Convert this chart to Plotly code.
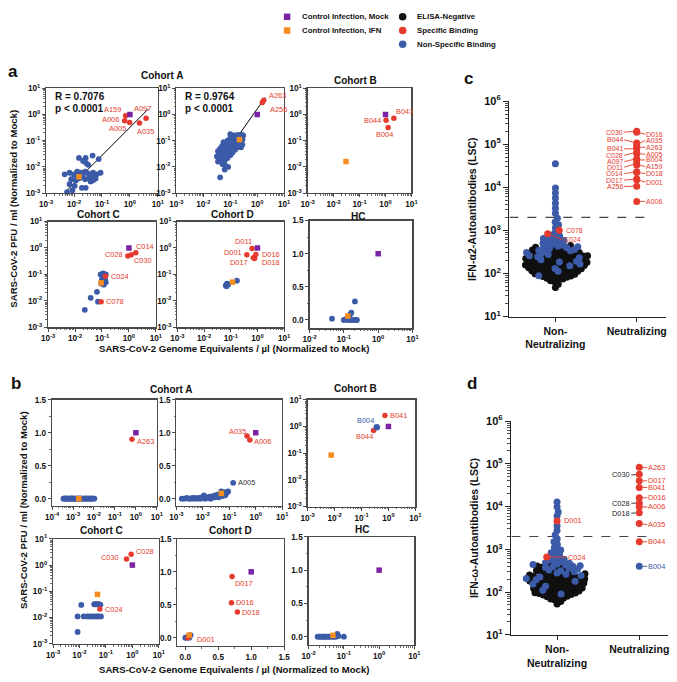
import math
import plotly.graph_objects as go

W, H = 677, 682
FONT = "Liberation Sans, Arial, Helvetica, sans-serif"
RED = "#e53a2d"
BLUE = "#3b5ba8"
PURPLE = "#7b22a5"
ORANGE = "#f68c1e"
BLACK = "#101010"
AXC = "#4a4a4a"
TXT = "#111111"

# ============================ DATA ============================
MOCK_X = [1.0]
MOCK_Y = [1.0]

# ---------- panel a : Cohort A (left) ----------
aA1_nsb_x = [0.015, 0.046, 0.026, 0.076, 0.032, 0.021, 0.089, 0.0046, 0.0069, 0.0098, 0.0129, 0.018, 0.025,
             0.035, 0.048, 0.065, 0.0079, 0.0115, 0.017, 0.025, 0.035, 0.048, 0.0069, 0.0105, 0.019, 0.026,
             0.0087, 0.0056, 0.039, 0.012, 0.020, 0.030, 0.040, 0.014, 0.056, 0.027, 0.059]
aA1_nsb_y = [0.022, 0.027, 0.022, 0.020, 0.012, 0.017, 0.0060, 0.0052, 0.0060, 0.0052, 0.0066, 0.0060, 0.0066,
             0.0052, 0.0060, 0.0052, 0.0034, 0.0030, 0.0039, 0.0034, 0.0039, 0.0031, 0.0022, 0.0019, 0.0016, 0.0016,
             0.0013, 0.0011, 0.0028, 0.0045, 0.0048, 0.0058, 0.0045, 0.0036, 0.0040, 0.014, 0.0036]
aA1_spec_id = ["A159", "A006", "A005", "A035", "A097"]
aA1_spec_x = [0.70, 0.65, 0.98, 2.2, 3.8]
aA1_spec_y = [0.90, 0.58, 0.50, 0.47, 0.72]
aA1_ifn_x = [0.015]
aA1_ifn_y = [0.0042]
aA1_fit_x = [0.0053, 4.5]
aA1_fit_y = [0.0012, 1.6]
aA1_stats = ["R = 0.7076", "p < 0.0001"]

# ---------- panel a : Cohort A (right) ----------
aA2_nsb_x = [0.032, 0.035, 0.035, 0.040, 0.042, 0.045, 0.050, 0.050, 0.052, 0.056, 0.060, 0.063, 0.063, 0.071,
             0.076, 0.079, 0.079, 0.083, 0.089, 0.095, 0.10, 0.10, 0.105, 0.112, 0.12, 0.126, 0.126, 0.141, 0.151,
             0.158, 0.158, 0.178, 0.19, 0.20, 0.20, 0.224, 0.24, 0.25, 0.263, 0.282, 0.30, 0.282, 0.062, 0.062,
             0.042, 0.10, 0.056, 0.13, 0.17, 0.21]
aA2_nsb_y = [0.025, 0.040, 0.016, 0.028, 0.050, 0.020, 0.035, 0.063, 0.0126, 0.025, 0.045, 0.079, 0.018, 0.032,
             0.056, 0.10, 0.022, 0.010, 0.040, 0.071, 0.126, 0.028, 0.050, 0.089, 0.035, 0.141, 0.063, 0.10, 0.045,
             0.158, 0.071, 0.112, 0.056, 0.166, 0.079, 0.141, 0.089, 0.056, 0.166, 0.112, 0.158, 0.071, 0.0123,
             0.0079, 0.0040, 0.178, 0.089, 0.16, 0.13, 0.11]
aA2_spec_id = ["A263", "A256"]
aA2_spec_x = [1.74, 1.55]
aA2_spec_y = [3.5, 2.9]
aA2_ifn_x = [0.22]
aA2_ifn_y = [0.11]
aA2_fit_x = [0.038, 2.0]
aA2_fit_y = [0.014, 4.5]
aA2_stats = ["R = 0.9764", "p < 0.0001"]

# ---------- panel a : Cohort B ----------
aB_spec_id = ["B044", "B041", "B004"]
aB_spec_x = [1.05, 2.1, 1.26]
aB_spec_y = [0.60, 0.72, 0.32]
aB_ifn_x = [0.03]
aB_ifn_y = [0.016]

# ---------- panel a : Cohort C ----------
aC_nsb_x = [0.089, 0.11, 0.138, 0.123, 0.10, 0.093, 0.117, 0.138, 0.13, 0.065, 0.038, 0.071, 0.023]
aC_nsb_y = [0.10, 0.11, 0.10, 0.072, 0.065, 0.045, 0.041, 0.051, 0.065, 0.022, 0.013, 0.0093, 0.0046]
aC_spec_id = ["C028", "C030", "C014", "C024", "C078"]
aC_spec_x = [0.91, 1.23, 1.8, 0.135, 0.093]
aC_spec_y = [0.50, 0.55, 0.66, 0.085, 0.0093]
aC_ifn_x = [0.093]
aC_ifn_y = [0.048]

# ---------- panel a : Cohort D ----------
aD_nsb_x = [0.065, 0.072, 0.081, 0.070, 0.17]
aD_nsb_y = [0.038, 0.045, 0.042, 0.036, 0.058]
aD_spec_id = ["D011", "D001", "D017", "D016", "D018"]
aD_spec_x = [0.63, 0.40, 0.70, 0.87, 0.78]
aD_spec_y = [0.95, 0.55, 0.43, 0.57, 0.40]
aD_ifn_x = [0.117]
aD_ifn_y = [0.051]

# ---------- panel a : HC ----------
aHC_nsb_x = [0.045, 0.10, 0.13, 0.16, 0.19, 0.22, 0.24, 0.15, 0.165, 0.21, 0.12]
aHC_nsb_y = [0.02, 0.0, 0.0, 0.0, 0.0, 0.0, 0.0, 0.08, 0.11, 0.28, 0.02]
aHC_ifn_x = [0.13]
aHC_ifn_y = [0.06]

# ---------- panel b : Cohort A (left) ----------
bA1_nsb_x = [0.00035, 0.0004, 0.00045, 0.0005, 0.00056, 0.00063, 0.0007, 0.0008, 0.0009, 0.001, 0.0011, 0.0012,
             0.0014, 0.0016, 0.0018, 0.002, 0.0023, 0.0026, 0.003, 0.0034, 0.0038, 0.0043, 0.005, 0.0056, 0.0063,
             0.007, 0.008, 0.009, 0.0105]
bA1_nsb_y = [0.0, 0.002, 0.0, 0.003, 0.0, 0.001, 0.0, 0.002, 0.0, 0.003, 0.0, 0.001, 0.0, 0.002, 0.0, 0.0, 0.003,
             0.0, 0.001, 0.0, 0.002, 0.0, 0.003, 0.0, 0.001, 0.0, 0.002, 0.0, 0.001]
bA1_spec_id = ["A263"]
bA1_spec_x = [0.65]
bA1_spec_y = [0.90]
bA1_ifn_x = [0.0019]
bA1_ifn_y = [0.0]

# ---------- panel b : Cohort A (right) ----------
bA2_nsb_x = [0.0016, 0.002, 0.0025, 0.003, 0.0035, 0.004, 0.0045, 0.005, 0.006, 0.007, 0.008, 0.009, 0.01, 0.011,
             0.012, 0.014, 0.016, 0.018, 0.02, 0.022, 0.025, 0.028, 0.03, 0.033, 0.036, 0.04, 0.045, 0.05, 0.055,
             0.06, 0.065, 0.07, 0.08, 0.09]
bA2_nsb_y = [0.0, 0.0, 0.01, 0.0, 0.0, 0.01, 0.0, 0.01, 0.0, 0.01, 0.0, 0.02, 0.01, 0.05, 0.0, 0.02, 0.01, 0.03,
             0.0, 0.02, 0.04, 0.02, 0.05, 0.03, 0.06, 0.02, 0.06, 0.11, 0.04, 0.07, 0.10, 0.05, 0.09, 0.11]
bA2_nsb_lbl_id = ["A005"]
bA2_nsb_lbl_x = [0.14]
bA2_nsb_lbl_y = [0.24]
bA2_spec_id = ["A035", "A006"]
bA2_spec_x = [0.47, 0.60]
bA2_spec_y = [0.95, 0.89]
bA2_ifn_x = [0.05]
bA2_ifn_y = [0.08]

# ---------- panel b : Cohort B ----------
bB_nsb_lbl_id = ["B004"]
bB_nsb_lbl_x = [0.37]
bB_nsb_lbl_y = [0.93]
bB_spec_id = ["B041", "B044"]
bB_spec_x = [0.74, 0.28]
bB_spec_y = [2.6, 0.70]
bB_ifn_x = [0.0075]
bB_ifn_y = [0.085]

# ---------- panel b : Cohort C ----------
bC_nsb_x = [0.0085, 0.0145, 0.02, 0.025, 0.031, 0.038, 0.045, 0.052, 0.065, 0.0117, 0.0085, 0.036, 0.041, 0.047,
            0.054, 0.062]
bC_nsb_y = [0.011, 0.011, 0.011, 0.011, 0.011, 0.011, 0.011, 0.011, 0.011, 0.030, 0.0028, 0.032, 0.032, 0.032,
            0.032, 0.031]
bC_spec_id = ["C030", "C028", "C024"]
bC_spec_x = [0.60, 0.90, 0.059]
bC_spec_y = [1.7, 2.6, 0.021]
bC_ifn_x = [0.048]
bC_ifn_y = [0.076]

# ---------- panel b : Cohort D ----------
bD_nsb_x = [0.0, 0.02, 0.03, 0.05, 0.07, 0.08, 0.06]
bD_nsb_y = [0.0, 0.0, 0.01, 0.02, 0.03, 0.04, 0.0]
bD_spec_id = ["D017", "D016", "D018", "D001"]
bD_spec_x = [0.71, 0.70, 0.79, 0.04]
bD_spec_y = [0.93, 0.53, 0.39, 0.0]
bD_ifn_x = [0.06]
bD_ifn_y = [0.04]

# ---------- panel b : HC ----------
bHC_nsb_x = [0.018, 0.02, 0.022, 0.024, 0.026, 0.028, 0.03, 0.033, 0.036, 0.04, 0.045, 0.05, 0.055, 0.06, 0.062,
             0.065, 0.07, 0.10]
bHC_nsb_y = [0.0, 0.0, 0.0, 0.0, 0.0, 0.0, 0.0, 0.0, 0.0, 0.0, 0.0, 0.0, 0.0, 0.0, 0.02, 0.04, 0.01, 0.0]
bHC_ifn_x = [0.049]
bHC_ifn_y = [0.02]

# ---------- panels c / d ----------
CATEGORIES = ["Non-Neutralizing", "Neutralizing"]
THRESHOLD = 2000

c_neg = [47, 56,
         64, 68, 71, 74, 77,
         80, 82, 85, 87, 89, 92, 94, 96, 98,
         101, 103, 105, 108, 110, 113, 115, 118, 120, 123, 125,
         127, 129, 132, 135, 138, 141, 143, 146, 149, 152, 155, 157,
         160, 162, 166, 169, 172, 176, 179, 182, 186, 189, 193, 197,
         201, 205, 210, 214, 219, 223, 228, 233, 238, 243, 248,
         253, 259, 266, 272, 280, 287, 296, 305, 313,
         320, 333, 348, 366, 385,
         405, 445]
c_nsb = [88, 112, 131, 150, 166, 185, 193, 209, 231, 244, 258, 274, 290, 308,
         325, 334, 347, 361, 378, 395,
         402, 418, 430, 452, 468, 489,
         505, 530, 556, 580, 605, 625,
         650, 690, 735, 780,
         900, 1150, 1350, 1560,
         1900, 2490, 3260, 4270, 5600, 7330, 9600, 35000]
c_nn_spec_id = ["C078", "C024"]
c_nn_spec = [1000, 830]
c_neut_id = ["C030", "D016", "B044", "A035", "A263", "B041", "C028", "A005", "A097", "B004", "D011", "A159",
             "C014", "D018", "D017", "D001", "A256", "A006"]
c_neut = [200000, 190000, 107000, 98000, 85000, 78000, 65000, 60000, 46000, 43000, 36000, 33000,
          23000, 22000, 15500, 15000, 10500, 4700]

d_neg = [53, 60,
         65, 69, 72, 75, 78,
         80, 83, 86, 88, 91, 93, 95, 97, 99,
         101, 103, 106, 108, 111, 114, 116, 119, 121, 124,
         127, 130, 133, 136, 139, 142, 145, 148, 151, 154, 157,
         160, 164, 167, 171, 175, 178, 182, 186, 190, 194, 198,
         202, 206, 211, 216, 221, 226, 231, 236, 241, 246,
         252, 260, 268, 277, 286, 296, 308,
         322, 340, 360, 380, 395,
         410, 430]
d_nsb = [90, 110, 137, 155, 180, 195, 209, 226, 243, 262, 280, 298, 314,
         328, 345, 362, 376, 390,
         402, 415, 428, 441, 455, 470, 488,
         510, 540, 565, 590, 615,
         700, 760,
         830, 900, 960,
         1100, 1300, 1500, 1750,
         2150, 2750, 3550, 6000, 7500, 9800, 12800]
d_nn_spec_id = ["D001", "C024"]
d_nn_spec = [4600, 660]
d_neut_id = ["A263", "C030", "D017", "B041", "D016", "C028", "A006", "D018", "A035", "B044"]
d_neut = [83000, 57000, 40000, 28000, 16000, 12000, 9800, 7200, 4000, 1500]
d_neut_nsb_id = ["B004"]
d_neut_nsb = [400]

# ============================ STYLE / LAYOUT ============================
fig = go.Figure()
layout_axes = {}
annotations = []
panels = {}
TICKF = 8.2
LBLF = 7.4
SWARM_D = 4.4


def log_ticks(lo, hi):
    vals = [10.0 ** k for k in range(lo, hi + 1)]
    text = ["10<sup>%d</sup>" % k for k in range(lo, hi + 1)]
    minor = [m * 10.0 ** k for k in range(lo, hi) for m in range(2, 10)]
    return vals, text, minor


def base_axis(kind, lim, fsize=TICKF, box=True, lw=1.3, col=AXC, tlen=3, mlen=1.6):
    d = dict(showline=True, linecolor=col, linewidth=lw, mirror=box, ticks="outside", ticklen=tlen,
             tickwidth=1, tickcolor=col, showgrid=False, zeroline=False, fixedrange=True,
             tickfont=dict(family=FONT, size=fsize, color=TXT, weight="bold"))
    if kind == "log":
        lo, hi = lim
        vals, text, minor = log_ticks(lo, hi)
        d.update(type="log", range=[lo, hi], tickmode="array", tickvals=vals, ticktext=text,
                 minor=dict(tickmode="array", tickvals=minor, ticks="outside", ticklen=mlen, tickwidth=0.8,
                            tickcolor=col, showgrid=False))
    else:
        d.update(type="linear", range=list(lim), tickmode="array", tickvals=[0, 0.5, 1.0, 1.5],
                 ticktext=["0.0", "0.5", "1.0", "1.5"],
                 minor=dict(tickmode="array", tickvals=[0.25, 0.75, 1.25], ticks="outside", ticklen=mlen,
                            tickwidth=0.8, tickcolor=col, showgrid=False))
    return d


def add_panel(n, xdom, ydom, xkind, xlim, ykind, ylim, **kw):
    xname = "xaxis" if n == 1 else "xaxis%d" % n
    yname = "yaxis" if n == 1 else "yaxis%d" % n
    xr = "x" if n == 1 else "x%d" % n
    yr = "y" if n == 1 else "y%d" % n
    xa = base_axis(xkind, xlim, **kw)
    xa.update(domain=[xdom[0] / W, xdom[1] / W], anchor=yr)
    ya = base_axis(ykind, ylim, **kw)
    ya.update(domain=[1 - ydom[1] / H, 1 - ydom[0] / H], anchor=xr)
    layout_axes[xname] = xa
    layout_axes[yname] = ya
    panels[n] = (xr, yr, xkind, ykind)


def cv(v, kind):
    return math.log10(v) if kind == "log" else v


def pts(n, x, y, color, symbol="circle", size=5.5):
    xr, yr, _, _ = panels[n]
    fig.add_trace(go.Scatter(x=x, y=y, xaxis=xr, yaxis=yr, mode="markers",
                             marker=dict(color=color, symbol=symbol, size=size, line=dict(width=0)),
                             showlegend=False, hoverinfo="skip", cliponaxis=False))


def fitline(n, x, y, color="black", width=1.0, dash=None):
    xr, yr, _, _ = panels[n]
    fig.add_trace(go.Scatter(x=x, y=y, xaxis=xr, yaxis=yr, mode="lines",
                             line=dict(color=color, width=width, dash=dash),
                             showlegend=False, hoverinfo="skip"))


def lbl(n, text, x, y, xanchor, xshift, yshift, color=RED, size=LBLF):
    xr, yr, xk, yk = panels[n]
    annotations.append(dict(text=text, x=cv(x, xk), y=cv(y, yk), xref=xr, yref=yr, showarrow=False,
                            xanchor=xanchor, yanchor="middle", xshift=xshift, yshift=yshift,
                            font=dict(family=FONT, size=size, color=color)))


def ptext(text, xpx, ypx, size, bold=True, xanchor="center", yanchor="middle", angle=0, color=TXT):
    annotations.append(dict(text=text, x=xpx / W, y=1 - ypx / H, xref="paper", yref="paper", showarrow=False,
                            xanchor=xanchor, yanchor=yanchor, textangle=angle,
                            font=dict(family=FONT, size=size, color=color,
                                      weight="bold" if bold else "normal")))


def group(n, nsb=None, spec=None, ifn=None):
    if nsb is not None:
        pts(n, nsb[0], nsb[1], BLUE, size=5.8)
    if spec is not None:
        pts(n, spec[0], spec[1], RED, size=5.5)
    if ifn is not None:
        pts(n, ifn[0], ifn[1], ORANGE, symbol="square", size=5.5)
    pts(n, MOCK_X, MOCK_Y, PURPLE, symbol="square", size=5.5)


# label placement: id -> (xanchor, xshift, yshift)
LBL_STYLE = {
    1: {"A159": ("right", -3, 6), "A006": ("right", -4, 1), "A005": ("right", -2, -6),
        "A035": ("left", -4, -8), "A097": ("center", -4, 10)},
    2: {"A263": ("left", 3, 5), "A256": ("left", 6, -7)},
    3: {"B041": ("left", 0, 7), "B044": ("right", -3, 0), "B004": ("center", -4, -7)},
    4: {"C014": ("left", -2, 6), "C028": ("right", -3, 1), "C030": ("left", 1, -6),
        "C024": ("left", 3, 0), "C078": ("left", 3, 0)},
    5: {"D011": ("right", 2, 7), "D001": ("right", -3, 2), "D017": ("right", -3, -5),
        "D016": ("left", 4, 0), "D018": ("left", 5, -4)},
    7: {"A263": ("left", 3, -2)},
    8: {"A035": ("right", 1, 5), "A006": ("left", 2, -2), "A005": ("left", 3, 0)},
    9: {"B041": ("left", 3, 0), "B044": ("right", 1, -6), "B004": ("right", -1, 7)},
    10: {"C030": ("right", -5, 2), "C028": ("left", 3, 3), "C024": ("left", 3, 0)},
    11: {"D017": ("left", 1, -7), "D016": ("left", 3, 0), "D018": ("left", 3, 0), "D001": ("left", 7, -2)},
}


def labels(n, ids, xs, ys, color=RED):
    for i, name in enumerate(ids):
        xa, xs_, ys_ = LBL_STYLE[n][name]
        lbl(n, name, xs[i], ys[i], xa, xs_, ys_, color=color)


# ---------------- panel a ----------------
add_panel(1, (40, 154), (82, 189), "log", (-3, 1), "log", (-3, 1))
add_panel(2, (173, 283), (82, 189), "log", (-3, 1), "log", (-3, 1))
add_panel(3, (307, 413), (82, 189), "log", (-3, 1), "log", (-3, 1))
add_panel(4, (42, 152), (218, 326), "log", (-3, 1), "log", (-3, 1))
add_panel(5, (174, 283), (218, 326), "log", (-3, 1), "log", (-3, 1))
add_panel(6, (309, 414), (217, 327), "log", (-2, 1), "lin", (-0.125, 1.5))

fitline(1, aA1_fit_x, aA1_fit_y)
group(1, (aA1_nsb_x, aA1_nsb_y), (aA1_spec_x, aA1_spec_y), (aA1_ifn_x, aA1_ifn_y))
labels(1, aA1_spec_id, aA1_spec_x, aA1_spec_y)
fitline(2, aA2_fit_x, aA2_fit_y)
group(2, (aA2_nsb_x, aA2_nsb_y), (aA2_spec_x, aA2_spec_y), (aA2_ifn_x, aA2_ifn_y))
labels(2, aA2_spec_id, aA2_spec_x, aA2_spec_y)
group(3, None, (aB_spec_x, aB_spec_y), (aB_ifn_x, aB_ifn_y))
labels(3, aB_spec_id, aB_spec_x, aB_spec_y)
group(4, (aC_nsb_x, aC_nsb_y), (aC_spec_x, aC_spec_y), (aC_ifn_x, aC_ifn_y))
labels(4, aC_spec_id, aC_spec_x, aC_spec_y)
group(5, (aD_nsb_x, aD_nsb_y), (aD_spec_x, aD_spec_y), (aD_ifn_x, aD_ifn_y))
labels(5, aD_spec_id, aD_spec_x, aD_spec_y)
group(6, (aHC_nsb_x, aHC_nsb_y), None, (aHC_ifn_x, aHC_ifn_y))

ptext(aA1_stats[0], 47, 90, 10, xanchor="left")
ptext(aA1_stats[1], 47, 102.5, 10, xanchor="left")
ptext(aA2_stats[0], 180, 90, 10, xanchor="left")
ptext(aA2_stats[1], 180, 102.5, 10, xanchor="left")

# ---------------- panel b ----------------
add_panel(7, (46, 153), (400, 508), "log", (-4, 1), "lin", (-0.105, 1.5))
add_panel(8, (173, 281), (400, 508), "log", (-3, 1), "lin", (-0.105, 1.5))
add_panel(9, (307, 417), (400, 509), "log", (-3, 1), "log", (-3, 1))
add_panel(10, (47, 155), (542, 649), "log", (-3, 1), "log", (-3, 1))
add_panel(11, (174, 283), (542, 651), "lin", (-0.12, 1.5), "lin", (-0.12, 1.5))
add_panel(12, (308, 416), (540, 650), "log", (-2, 1), "lin", (-0.12, 1.5))

group(7, (bA1_nsb_x, bA1_nsb_y), (bA1_spec_x, bA1_spec_y), (bA1_ifn_x, bA1_ifn_y))
labels(7, bA1_spec_id, bA1_spec_x, bA1_spec_y)
group(8, (bA2_nsb_x, bA2_nsb_y), (bA2_spec_x, bA2_spec_y), (bA2_ifn_x, bA2_ifn_y))
pts(8, bA2_nsb_lbl_x, bA2_nsb_lbl_y, BLUE, size=5.8)
labels(8, bA2_spec_id, bA2_spec_x, bA2_spec_y)
labels(8, bA2_nsb_lbl_id, bA2_nsb_lbl_x, bA2_nsb_lbl_y, color="#333333")
group(9, None, (bB_spec_x, bB_spec_y), (bB_ifn_x, bB_ifn_y))
pts(9, bB_nsb_lbl_x, bB_nsb_lbl_y, BLUE, size=6.5)
labels(9, bB_spec_id, bB_spec_x, bB_spec_y)
labels(9, bB_nsb_lbl_id, bB_nsb_lbl_x, bB_nsb_lbl_y, color=BLUE)
group(10, (bC_nsb_x, bC_nsb_y), (bC_spec_x, bC_spec_y), (bC_ifn_x, bC_ifn_y))
labels(10, bC_spec_id, bC_spec_x, bC_spec_y)
group(11, (bD_nsb_x, bD_nsb_y), (bD_spec_x, bD_spec_y), (bD_ifn_x, bD_ifn_y))
labels(11, bD_spec_id, bD_spec_x, bD_spec_y)
group(12, (bHC_nsb_x, bHC_nsb_y), None, (bHC_ifn_x, bHC_ifn_y))

# titles / axis titles for a and b
for t, x, y in [("Cohort A", 158, 69), ("Cohort B", 356, 74), ("Cohort C", 93, 211), ("Cohort D", 230, 211),
                ("HC", 358, 213), ("Cohort A", 167, 389), ("Cohort B", 356, 388), ("Cohort C", 97, 533),
                ("Cohort D", 228, 533), ("HC", 362, 532)]:
    ptext(t, x, y, 10)
ptext("SARS-CoV-2 Genome Equivalents / µl (Normalized to Mock)", 232, 348, 9.6)
ptext("SARS-CoV-2 Genome Equivalents / µl (Normalized to Mock)", 232, 675, 9.6)
ptext("SARS-CoV-2 PFU / ml (Normalized to Mock)", 7, 205, 9.6, angle=-90)
ptext("SARS-CoV-2 PFU / ml (Normalized to Mock)", 17, 513, 9.6, angle=-90)
ptext("a", 6, 65, 17)
ptext("b", 9, 383, 17)
ptext("c", 471, 72, 17)
ptext("d", 475, 383, 17)


# ---------------- panels c / d (beeswarm) ----------------
def beeswarm(values, ppd, dmin):
    ys = [math.log10(v) * ppd for v in values]
    order = sorted(range(len(values)), key=lambda i: ys[i])
    xs = [0.0] * len(values)
    placed = []
    for i in order:
        y = ys[i]
        near = [(px, py) for px, py in placed if abs(py - y) < dmin]
        cands = [0.0]
        for px, py in near:
            dx = math.sqrt(dmin * dmin - (py - y) ** 2)
            cands.extend([px + dx, px - dx])
        cands.sort(key=lambda c: (abs(c), -c))
        for c in cands:
            if all((c - px) ** 2 + (y - py) ** 2 >= dmin * dmin - 1e-6 for px, py in near):
                xs[i] = c
                break
        placed.append((xs[i], y))
    return xs


def dot_panel(n, xdom, ydom, xlim, ytitle, neg, nsb, nn_id, nn, ppd, ppx):
    xname = "xaxis%d" % n
    yname = "yaxis%d" % n
    xr, yr = "x%d" % n, "y%d" % n
    xa = base_axis("lin", xlim, fsize=10.5, box=False, lw=1.5, col="#222222", tlen=4, mlen=2.5)
    xa.update(domain=[xdom[0] / W, xdom[1] / W], anchor=yr, tickvals=[0, 1],
              ticktext=["Non-<br>Neutralizing", "Neutralizing"], minor=dict(ticks=""))
    ya = base_axis("log", (1, 6), fsize=11, box=False, lw=1.5, col="#222222", tlen=5, mlen=2.8)
    ya.update(domain=[1 - ydom[1] / H, 1 - ydom[0] / H], anchor=xr)
    layout_axes[xname] = xa
    layout_axes[yname] = ya
    panels[n] = (xr, yr, "lin", "log")
    allv = neg + nsb + nn
    xs = beeswarm(allv, ppd, SWARM_D)
    xs = [v / ppx + CATEGORIES.index("Non-Neutralizing") for v in xs]
    a, b = len(neg), len(neg) + len(nsb)
    fig.add_trace(go.Scatter(x=[xlim[0], xlim[1] * 0.88], y=[THRESHOLD, THRESHOLD], xaxis=xr, yaxis=yr,
                             mode="lines", line=dict(color="#444444", width=1.1, dash="dash"),
                             showlegend=False, hoverinfo="skip"))
    pts(n, xs[:a], neg, BLACK, size=7)
    pts(n, xs[a:b], nsb, BLUE, size=7)
    pts(n, xs[b:], nn, RED, size=7)
    ptext(ytitle, xdom[0] - 38, (ydom[0] + ydom[1]) / 2, 10.5, angle=-90)
    return xs[b:]


c_nn_x = dot_panel(13, (513, 673), (95, 315), (-0.566, 1.361), "IFN-α2-Autoantibodies (LSC)",
                   c_neg, c_nsb, c_nn_spec_id, c_nn_spec, 44.0, 83.0)
d_nn_x = dot_panel(14, (515, 675), (421.7, 640), (-0.556, 1.35), "IFN-ω-Autoantibodies (LSC)",
                   d_neg, d_nsb, d_nn_spec_id, d_nn_spec, 43.66, 83.9)

XN = CATEGORIES.index("Neutralizing")
pts(13, [XN] * len(c_neut), c_neut, RED, size=7)
pts(14, [XN] * len(d_neut), d_neut, RED, size=7)
pts(14, [XN] * len(d_neut_nsb), d_neut_nsb, BLUE, size=7)

# connector-label layout: id -> (side, ay)
C_LBL = {"C030": ("L", 1), "D016": ("R", 2), "B044": ("L", -3), "A035": ("R", -4), "A263": ("R", 0),
         "B041": ("L", 0), "C028": ("L", 3), "A005": ("R", 0.5), "A097": ("L", 3), "B004": ("R", 0),
         "D011": ("L", 4), "A159": ("R", 1.5), "C014": ("L", 2), "D018": ("R", 1), "D017": ("L", 1),
         "D001": ("R", 2.5), "A256": ("L", 0), "A006": ("R", 0)}
D_LBL = {"A263": ("R", 0.4), "C030": ("L", 0.7), "D017": ("R", 0), "B041": ("R", 0), "D016": ("R", 0),
         "C028": ("L", 0), "A006": ("R", 0), "D018": ("L", 0.5), "A035": ("R", 1), "B044": ("R", 0),
         "B004": ("R", 0)}


def conn(n, text, x, y, ax, ay, xanchor, color, arrow=True, size=7.0):
    xr, yr, _, _ = panels[n]
    annotations.append(dict(text=text, x=x, y=math.log10(y), xref=xr, yref=yr, showarrow=arrow,
                            ax=ax, ay=ay, axref="pixel", ayref="pixel", xanchor=xanchor, yanchor="middle",
                            arrowhead=0, arrowwidth=0.9, arrowcolor=color, standoff=3.5, borderpad=0,
                            font=dict(family=FONT, size=size, color=color)))


for name, v in zip(c_neut_id, c_neut):
    side, ay = C_LBL[name]
    conn(13, name, XN, v, -12.5 if side == "L" else 8.5, ay, "right" if side == "L" else "left", RED)
for name, v in zip(d_neut_id, d_neut):
    side, ay = D_LBL[name]
    col = RED if side == "R" else "#222222"
    conn(14, name, XN, v, -8 if side == "L" else 8, ay, "right" if side == "L" else "left", col, size=7.4)
for name, v in zip(d_neut_nsb_id, d_neut_nsb):
    side, ay = D_LBL[name]
    conn(14, name, XN, v, 8, ay, "left", BLUE, size=7.4)

# labels for specific binders in the non-neutralizing swarm
conn(13, c_nn_spec_id[0], c_nn_x[0], c_nn_spec[0], 5, 0, "left", RED, arrow=False)
annotations[-1].update(xshift=6, showarrow=False)
conn(13, c_nn_spec_id[1], c_nn_x[1], c_nn_spec[1], 15, 6, "left", RED)
conn(14, d_nn_spec_id[0], d_nn_x[0], d_nn_spec[0], 5, 0, "left", RED, arrow=False, size=7.4)
annotations[-1].update(xshift=6, showarrow=False)
conn(14, d_nn_spec_id[1], d_nn_x[1], d_nn_spec[1], 20, 0, "left", RED, size=7.4)

# ---------------- legend (manual) ----------------
layout_axes["xaxis15"] = dict(domain=[0, 1], range=[0, W], visible=False, fixedrange=True, anchor="y15")
layout_axes["yaxis15"] = dict(domain=[1 - 48 / H, 1], range=[48, 0], visible=False, fixedrange=True,
                              anchor="x15")
LEG = [("Control Infection, Mock", PURPLE, "square", 286, 9),
       ("Control Infection, IFN", ORANGE, "square", 286, 23),
       ("ELISA-Negative", BLACK, "circle", 404, 9),
       ("Specific Binding", RED, "circle", 404, 23),
       ("Non-Specific Binding", BLUE, "circle", 404, 37)]
for text, col, sym, x, y in LEG:
    fig.add_trace(go.Scatter(x=[x], y=[y], xaxis="x15", yaxis="y15", mode="markers",
                             marker=dict(color=col, symbol=sym, size=6.5 if sym == "square" else 7.5,
                                         line=dict(width=0)),
                             showlegend=False, hoverinfo="skip"))
    ptext(text, x + 13, y, 7.8, xanchor="left")

fig.update_layout(width=W, height=H, margin=dict(l=0, r=0, t=0, b=0), autosize=False,
                  paper_bgcolor="white", plot_bgcolor="white", showlegend=False,
                  annotations=annotations, font=dict(family=FONT, color=TXT), **layout_axes)
fig.write_html("out.html", config={"displayModeBar": False, "staticPlot": True},
               post_script="document.body.style.margin='0px';document.body.style.padding='0px';")
